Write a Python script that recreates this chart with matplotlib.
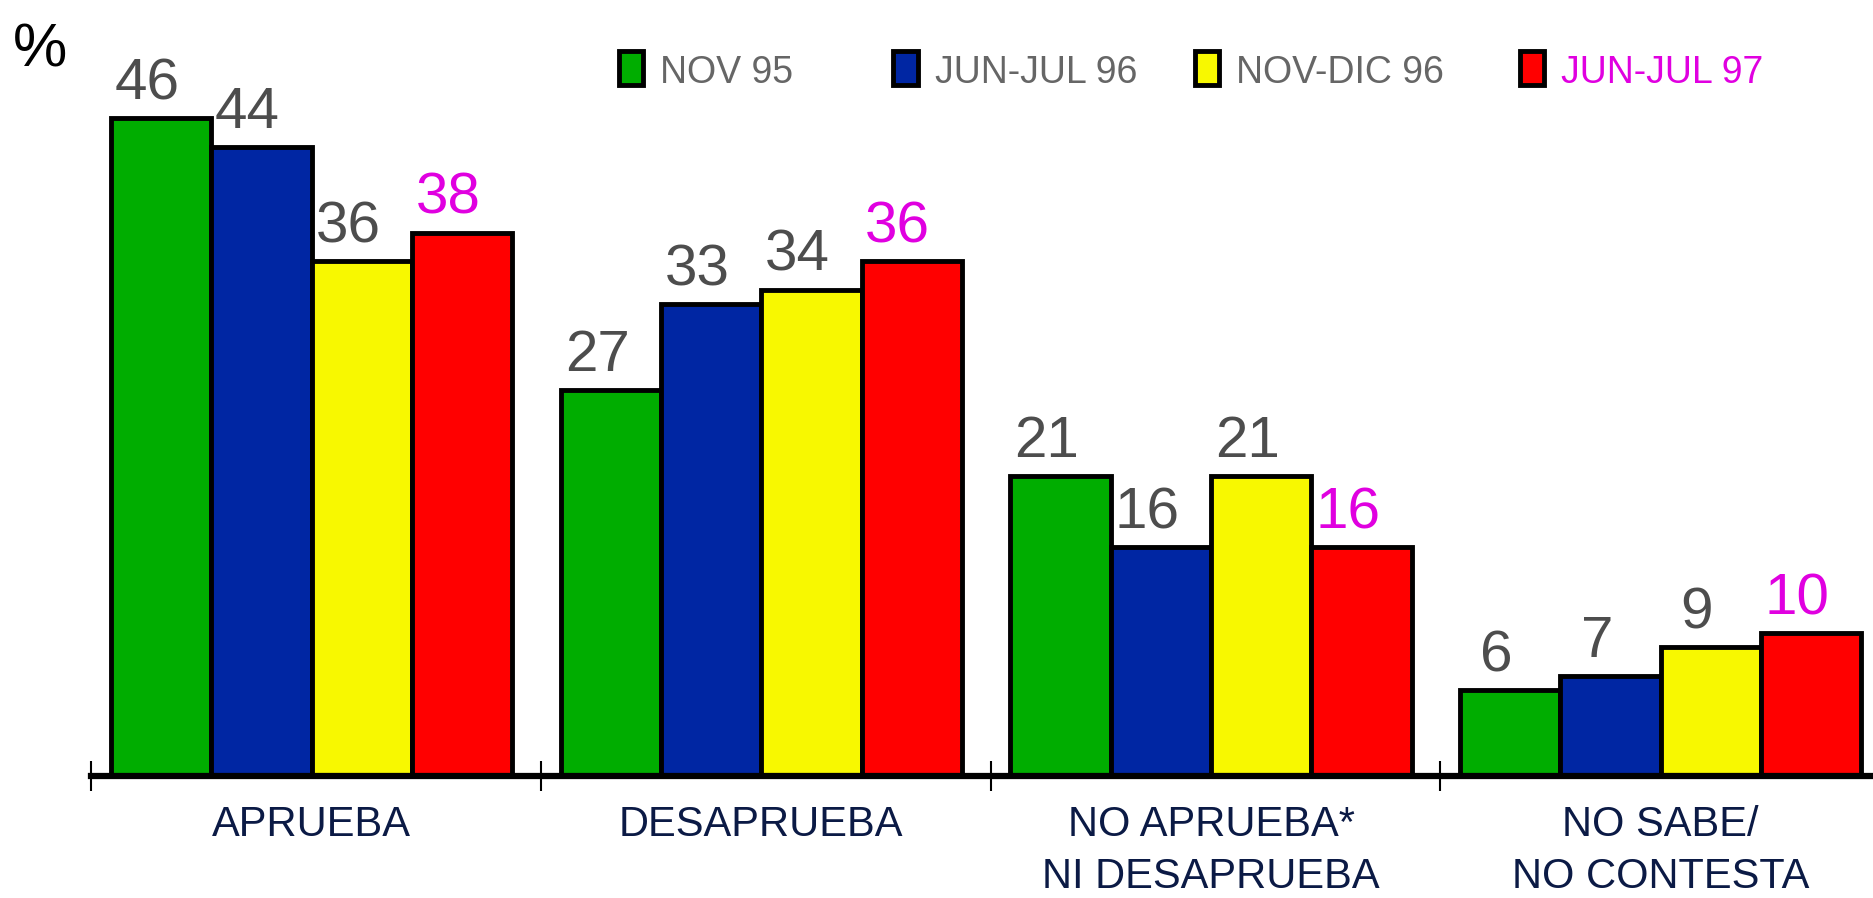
#!/usr/bin/env python3

import matplotlib
matplotlib.use("Agg")
import matplotlib.pyplot as plt
from matplotlib.patches import Rectangle
import numpy as np

# data
categories = ["APRUEBA", "DESAPRUEBA", "NO APRUEBA*\nNI DESAPRUEBA", "NO SABE/\nNO CONTESTA"]
series_names = ["NOV 95", "JUN-JUL 96", "NOV-DIC 96", "JUN-JUL 97"]
nov95 = [46, 27, 21, 6]
junjul96 = [44, 33, 16, 7]
novdic96 = [36, 34, 21, 9]
junjul97 = [38, 36, 16, 10]

series_values = [nov95, junjul96, novdic96, junjul97]
bar_colors = ["#00ad00", "#0026a3", "#f8f800", "#ff0000"]
label_colors = ["#4d4d4d", "#4d4d4d", "#4d4d4d", "#e000e0"]
legend_text_colors = ["#666666", "#666666", "#666666", "#e000e0"]

plt.rcParams["font.family"] = ["Liberation Sans", "DejaVu Sans"]

fig = plt.figure(figsize=(18.73, 8.98), dpi=100)
ax = fig.add_axes([0.0485, 0.1356, 0.9515, 0.8644])

bar_w = 0.223
x = np.arange(len(categories))

for i, (vals, col, lcol) in enumerate(zip(series_values, bar_colors, label_colors)):
    pos = x + (i - 1.5) * bar_w
    ax.bar(pos, vals, width=bar_w, color=col, edgecolor="black", linewidth=3.5, zorder=3)
    for px, v in zip(pos, vals):
        ax.annotate(
            str(v),
            xy=(px, v),
            xytext=(-10, 5),
            textcoords="offset points",
            ha="center",
            va="bottom",
            fontsize=42,
            color=lcol,
        )

ax.set_xlim(-0.491, 3.472)
ax.set_ylim(0, 54.26)

for side in ["top", "right", "left"]:
    ax.spines[side].set_visible(False)
ax.spines["bottom"].set_linewidth(4.5)
ax.spines["bottom"].set_zorder(4)
ax.set_yticks([])

# group boundary ticks and category labels
ax.set_xticks(x - 0.49)
ax.set_xticklabels([])
ax.tick_params(axis="x", which="major", direction="inout", length=22, width=1.5, color="black")
ax.set_xticks(x, minor=True)
ax.set_xticklabels(categories, minor=True, fontsize=30, color="#0b1a45", linespacing=1.38)
ax.tick_params(axis="x", which="minor", length=0, pad=21)

fig.text(0.007, 0.975, "%", fontsize=44, color="black", ha="left", va="top")

# legend, drawn by hand to keep the uneven spacing of the original
legend_x = [0.3305, 0.477, 0.638, 0.8115]
for lx, col, name, tcol in zip(legend_x, bar_colors, series_names, legend_text_colors):
    fig.patches.append(
        Rectangle((lx, 0.905), 0.013, 0.038, transform=fig.transFigure,
                  facecolor=col, edgecolor="black", linewidth=3.5)
    )
    fig.text(lx + 0.022, 0.919, name, fontsize=27, color=tcol, ha="left", va="center")

fig.savefig("out.png", dpi=100)
